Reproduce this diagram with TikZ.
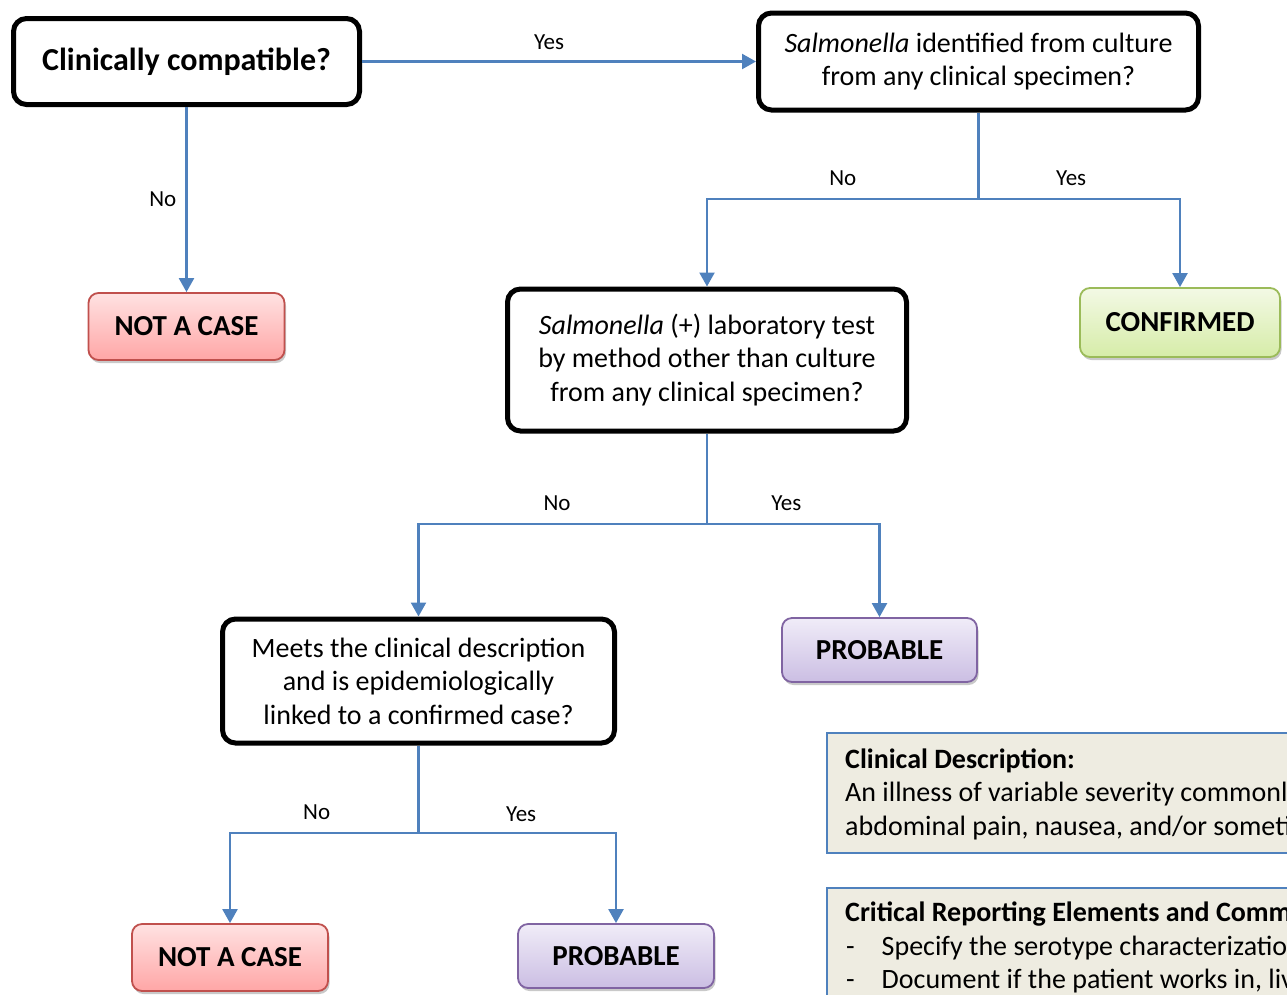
\documentclass[tikz,border=0pt]{standalone}
\usepackage{fontspec}
\setmainfont{Carlito}
\usetikzlibrary{arrows.meta,shadows}
\definecolor{arrblue}{RGB}{79,129,189}
\definecolor{redtop}{RGB}{255,226,226}
\definecolor{redbot}{RGB}{255,166,166}
\definecolor{redline}{RGB}{192,80,77}
\definecolor{greentop}{RGB}{243,249,229}
\definecolor{greenbot}{RGB}{214,236,168}
\definecolor{greenline}{RGB}{155,187,89}
\definecolor{purptop}{RGB}{240,236,248}
\definecolor{purpbot}{RGB}{203,190,227}
\definecolor{purpline}{RGB}{128,100,162}
\definecolor{infofill}{RGB}{238,236,225}
\definecolor{infoline}{RGB}{79,129,189}
\begin{document}
\begin{tikzpicture}[x=1pt,y=-1pt,
  qbox/.style={draw=black, line width=5pt, rounded corners=13pt, fill=white,
    align=center, inner sep=0pt, font=\fontsize{28}{33.5}\selectfont},
  outbox/.style={line width=1.8pt, rounded corners=10pt, inner sep=0pt,
    font=\bfseries\fontsize{29}{33}\selectfont,
    drop shadow={shadow xshift=1.5pt, shadow yshift=-3pt, opacity=0.3, fill=black!70}},
  redbox/.style={outbox, draw=redline, top color=redtop, bottom color=redbot},
  greenbox/.style={outbox, draw=greenline, top color=greentop, bottom color=greenbot},
  purpbox/.style={outbox, draw=purpline, top color=purptop, bottom color=purpbot},
  infobox/.style={draw=infoline, fill=infofill, line width=1.8pt},
  infotext/.style={anchor=base west, inner sep=0pt, font=\fontsize{28}{33}\selectfont},
  infobold/.style={infotext, font=\bfseries\fontsize{28}{33}\selectfont},
  conn/.style={draw=arrblue, line width=2.3pt},
  arr/.style={conn, -{Triangle[length=14pt,width=15pt]}},
  lbl/.style={inner sep=0pt, font=\fontsize{23}{26}\selectfont}
]
\useasboundingbox (0,0) rectangle (1287,994);
\clip (0,0) rectangle (1287,994);

% question boxes
\node[qbox, minimum width=346pt, minimum height=86pt, font=\bfseries\fontsize{32}{36}\selectfont] (A) at (186.5,61.5) {Clinically compatible?};
\node[qbox, minimum width=440pt, minimum height=97pt] (B) at (978.5,61.5) {\textit{Salmonella} identified from culture\\from any clinical specimen?};
\node[qbox, minimum width=399pt, minimum height=142pt] (C) at (707,360) {\textit{Salmonella} (+) laboratory test\\by method other than culture\\from any clinical specimen?};
\node[qbox, minimum width=392pt, minimum height=124pt] (D) at (418.5,681) {Meets the clinical description\\and is epidemiologically\\linked to a confirmed case?};

% outcome boxes
\node[redbox, minimum width=196pt, minimum height=67pt] (N1) at (186.5,326.5) {NOT A CASE};
\node[greenbox, minimum width=200pt, minimum height=69pt] (CF) at (1180,322.5) {CONFIRMED};
\node[purpbox, minimum width=195pt, minimum height=64pt] (P1) at (879.5,650) {PROBABLE};
\node[redbox, minimum width=196pt, minimum height=67pt] (N2) at (230,957.5) {NOT A CASE};
\node[purpbox, minimum width=196pt, minimum height=64pt] (P2) at (616,956) {PROBABLE};

% info boxes
\node[infobox, anchor=north west, minimum width=480pt, minimum height=120pt, inner sep=0pt] (I1) at (826,732) {};
\node[infobox, anchor=north west, minimum width=480pt, minimum height=130pt, inner sep=0pt] (I2) at (826,887) {};
\node[infobold] (t1) at (845,768) {Clinical Description:};
\node[infotext] (t2) at (845,801.5) {An illness of variable severity commonl};
\node[infotext] (t3) at (845,835) {abdominal pain, nausea, and/or someti};
\node[infobold] (t4) at (845,921.5) {Critical Reporting Elements and Comm};
\node[infotext] (d1) at (846,955) {-};
\node[infotext] (t5) at (881.5,955) {Specify the serotype characterizatio};
\node[infotext] (d2) at (846,988) {-};
\node[infotext] (t6) at (881.5,988) {Document if the patient works in, liv};

% branch points
\coordinate (b1) at (978.5,199);
\coordinate (c1) at (707,524);
\coordinate (d1p) at (418.5,833);

% connectors
\draw[arr] (A.east) -- node[lbl, pos=0.475, above=11pt] {Yes} (B.west);
\draw[arr] (A.south) -- node[lbl, left=9pt] {No} (N1.north);

\draw[conn] (B.south) -- (b1);
\draw[arr] (b1) -| node[lbl, pos=0.25, above=12pt] {No} (C.north);
\draw[arr] (b1) -| node[lbl, pos=0.23, above=12pt] {Yes} (CF.north);

\draw[conn] (C.south) -- (c1);
\draw[arr] (c1) -| node[lbl, pos=0.26, above=12pt] {No} (D.north);
\draw[arr] (c1) -| node[lbl, pos=0.23, above=12pt] {Yes} (P1.north);

\draw[conn] (D.south) -- (d1p);
\draw[arr] (d1p) -| node[lbl, pos=0.27, above=12pt] {No} (N2.north);
\draw[arr] (d1p) -| node[lbl, pos=0.26, above=10pt] {Yes} (P2.north);
\end{tikzpicture}
\end{document}
